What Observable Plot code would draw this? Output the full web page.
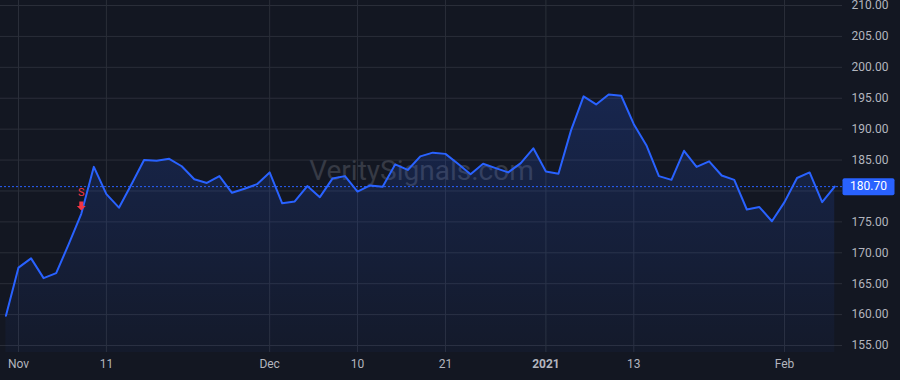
<!DOCTYPE html>
<html><head><meta charset="utf-8">
<script src="https://cdn.jsdelivr.net/npm/d3@7"></script>
<script src="https://cdn.jsdelivr.net/npm/@observablehq/plot@0.6"></script>
<style>html,body{margin:0;padding:0;background:#131722;overflow:hidden;}</style>
</head><body><div id="chart"></div>
<script>
const dates = [
  "2020-10-30",
  "2020-11-02","2020-11-03","2020-11-04","2020-11-05","2020-11-06","2020-11-09","2020-11-10","2020-11-11","2020-11-12","2020-11-13",
  "2020-11-16","2020-11-17","2020-11-18","2020-11-19","2020-11-20","2020-11-23","2020-11-24","2020-11-25","2020-11-27","2020-11-30",
  "2020-12-01","2020-12-02","2020-12-03","2020-12-04","2020-12-07","2020-12-08","2020-12-09","2020-12-10","2020-12-11","2020-12-14",
  "2020-12-15","2020-12-16","2020-12-17","2020-12-18","2020-12-21","2020-12-22","2020-12-23","2020-12-24","2020-12-28","2020-12-29",
  "2020-12-30","2020-12-31",
  "2021-01-04","2021-01-05","2021-01-06","2021-01-07","2021-01-08","2021-01-11","2021-01-12","2021-01-13","2021-01-14","2021-01-15",
  "2021-01-19","2021-01-20","2021-01-21","2021-01-22","2021-01-25","2021-01-26","2021-01-27","2021-01-28","2021-01-29",
  "2021-02-01","2021-02-02","2021-02-03","2021-02-04","2021-02-05"
];
const closes = [
  159.8,167.6,169.1,165.9,166.7,171.4,176.3,183.9,179.5,177.3,
  181.1,185.0,184.9,185.2,184.0,181.9,181.3,182.4,179.7,180.35,
  181.1,183.0,178.0,178.3,180.8,179.0,182.0,182.4,179.9,180.9,
  180.7,184.3,183.4,185.6,186.2,186.0,184.4,182.7,184.4,183.7,
  183.0,184.5,186.9,183.15,182.8,189.8,195.3,194.0,195.6,195.4,
  190.8,187.4,182.4,181.8,186.5,183.9,184.8,182.5,181.8,177.0,
  177.4,175.1,178.2,182.1,183.0,178.2,180.7
];
const yTicks = [155,160,165,170,175,180,185,190,195,200,205,210];
const xTickDates = ["2020-11-02","2020-11-11","2020-12-01","2020-12-10","2020-12-21","2021-01-04","2021-01-13","2021-02-01"];
const xTickLabels = ["Nov","11","Dec","10","21","2021","13","Feb"];
const signalDates = ["2020-11-09"];
const signalLabels = ["S"];
const watermark = "VeritySignals.com";

const data = dates.map((d, i) => ({i, date: d, v: closes[i]}));
const xt = xTickDates.map((d, k) => ({i: dates.indexOf(d), label: xTickLabels[k], bold: /^\d{4}$/.test(xTickLabels[k])}));
const sig = signalDates.map((d, k) => ({i: dates.indexOf(d), v: closes[dates.indexOf(d)], label: signalLabels[k]}));
const last = data[data.length - 1];
const yMin = 153.87, yMax = 210.81;
const xDomain = [-0.4335, 66.62];
const txt = "#b2b5be", grid = "#2a2e39", blue = "#2962ff", red = "#f23645";
// tick labels hidden behind the last-price label (as in the reference)
const yLabelTicks = yTicks.filter(t => Math.abs(t - last.v) > 2);

const arrowDown = {draw(ctx) {
  ctx.moveTo(-2, -4.5); ctx.lineTo(2, -4.5); ctx.lineTo(2, 0); ctx.lineTo(4.5, 0);
  ctx.lineTo(0, 4.5); ctx.lineTo(-4.5, 0); ctx.lineTo(-2, 0); ctx.closePath();
}};
const priceBox = {draw(ctx) {
  const w = 26, h = 8.5, r = 2;
  ctx.moveTo(-w + r, -h); ctx.lineTo(w - r, -h); ctx.arcTo(w, -h, w, -h + r, r);
  ctx.lineTo(w, h - r); ctx.arcTo(w, h, w - r, h, r); ctx.lineTo(-w + r, h);
  ctx.arcTo(-w, h, -w, h - r, r); ctx.lineTo(-w, -h + r); ctx.arcTo(-w, -h, -w + r, -h, r); ctx.closePath();
}};

const plot = Plot.plot({
  width: 900, height: 380,
  marginTop: 0, marginBottom: 28, marginLeft: 0, marginRight: 58,
  x: {type: "linear", domain: xDomain, axis: null},
  y: {domain: [yMin, yMax], axis: null},
  style: {background: "#131722", fontFamily: "Roboto, 'Liberation Sans', sans-serif", fontSize: "12px", color: txt, overflow: "visible"},
  marks: [
    Plot.ruleY(yTicks, {stroke: grid, strokeWidth: 1}),
    Plot.ruleX(xt, {x: "i", stroke: grid, strokeWidth: 1}),
    Plot.text([watermark], {frameAnchor: "middle", dy: -5, fontSize: 28, fill: "#363a45"}),
    Plot.areaY(data, {x: "i", y1: yMin, y2: "v", fill: "url(#areaGrad)"}),
    Plot.lineY(data, {x: "i", y: "v", stroke: blue, strokeWidth: 2, strokeLinejoin: "round"}),
    Plot.ruleY([last], {y: "v", stroke: blue, strokeDasharray: "2,2", strokeWidth: 1}),
    Plot.text(yLabelTicks, {y: d => d, text: d => d.toFixed(2), frameAnchor: "right", dx: 46, textAnchor: "end", fill: txt, fontSize: 12}),
    Plot.text(xt.filter(d => !d.bold), {x: "i", text: "label", frameAnchor: "bottom", dy: 15, fill: txt, fontSize: 12}),
    Plot.text(xt.filter(d => d.bold), {x: "i", text: "label", frameAnchor: "bottom", dy: 15, fill: txt, fontSize: 12, fontWeight: "bold"}),
    Plot.dot([last], {x: () => xDomain[1], y: "v", dx: 26, symbol: priceBox, fill: blue, stroke: "none"}),
    Plot.text([last], {x: () => xDomain[1], y: "v", dx: 26, textAnchor: "middle", text: d => d.v.toFixed(2), fill: "#ffffff", fontSize: 12}),
    Plot.dot(sig, {x: "i", y: "v", dy: -7.8, symbol: arrowDown, fill: red, stroke: "none"}),
    Plot.text(sig, {x: "i", y: "v", dy: -21, text: "label", fill: red, fontSize: 11})
  ]
});

const svgEl = plot.tagName.toLowerCase() === "svg" ? plot : plot.querySelector("svg");
const defs = d3.select(svgEl).insert("defs", ":first-child");
const g = defs.append("linearGradient").attr("id", "areaGrad").attr("x1", 0).attr("y1", 0).attr("x2", 0).attr("y2", 1);
g.append("stop").attr("offset", "0%").attr("stop-color", blue).attr("stop-opacity", 0.2);
g.append("stop").attr("offset", "100%").attr("stop-color", blue).attr("stop-opacity", 0.04);
document.getElementById("chart").appendChild(plot);
</script>
</body></html>
